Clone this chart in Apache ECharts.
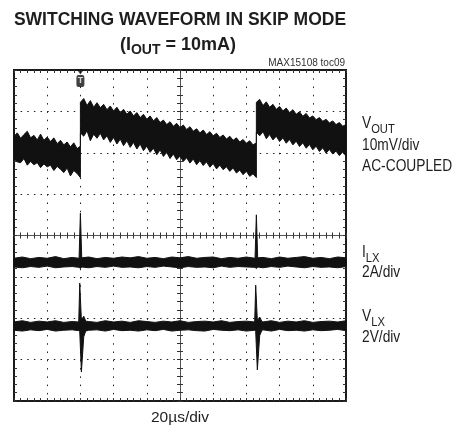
<!DOCTYPE html>
<html><head><meta charset="utf-8">
<script src="https://cdn.jsdelivr.net/npm/echarts@6/dist/echarts.min.js"></script>
<style>html,body{margin:0;padding:0;background:#fff}#c{width:468px;height:433px}</style>
</head><body><div id="c"></div>
<script>
// time in divisions (20us/div), 0 = screen centre; trigger at -3 div
const trigT = [-3];
// VOUT trace envelope (divisions, 10mV/div, AC-coupled)
const vT = [-5.0,-4.9,-4.8,-4.7,-4.6,-4.5,-4.4,-4.3,-4.2,-4.1,-4.0,-3.9,-3.8,-3.7,-3.6,-3.5,-3.4,-3.3,-3.2,-3.1,-3.0,
 -3.0,-2.9,-2.8,-2.7,-2.6,-2.5,-2.4,-2.3,-2.2,-2.1,-2.0,-1.9,-1.8,-1.7,-1.6,-1.5,-1.4,-1.3,-1.2,-1.1,-1.0,-0.9,-0.8,-0.7,-0.6,-0.5,-0.4,-0.3,-0.2,-0.1,0.0,0.1,0.2,0.3,0.4,0.5,0.6,0.7,0.8,0.9,1.0,1.1,1.2,1.3,1.4,1.5,1.6,1.7,1.8,1.9,2.0,2.1,2.2,2.3,
 2.3,2.4,2.5,2.6,2.7,2.8,2.9,3.0,3.1,3.2,3.3,3.4,3.5,3.6,3.7,3.8,3.9,4.0,4.1,4.2,4.3,4.4,4.5,4.6,4.7,4.8,4.9,5.0];
const vHi = [2.40,2.48,2.35,2.44,2.52,2.36,2.42,2.31,2.45,2.30,2.38,2.27,2.36,2.22,2.30,2.19,2.26,2.14,2.24,2.10,2.16,
 3.22,3.31,3.14,3.26,3.10,3.21,3.09,3.17,3.04,3.13,3.01,3.10,2.97,3.05,2.93,3.01,2.89,2.97,2.85,2.93,2.81,2.89,2.77,2.85,2.73,2.79,2.68,2.75,2.64,2.71,
 2.61,2.67,2.56,2.63,2.52,2.58,2.48,2.55,2.44,2.51,2.41,2.47,2.37,2.43,2.33,2.40,2.30,2.36,2.26,2.32,2.23,2.29,2.19,2.24,
 3.22,3.29,3.14,3.23,3.10,3.17,3.05,3.12,3.01,3.08,2.97,3.04,2.93,2.99,2.88,2.95,2.84,2.89,2.80,2.85,2.76,2.81,2.72,2.77,2.68,2.73,2.64,2.68];
const vLo = [1.85,1.78,1.76,1.86,1.70,1.79,1.71,1.76,1.64,1.73,1.66,1.70,1.57,1.67,1.60,1.52,1.63,1.44,1.57,1.50,1.40,
 2.48,2.40,2.53,2.29,2.45,2.35,2.47,2.31,2.41,2.25,2.37,2.21,2.33,2.17,2.29,2.13,2.25,2.09,2.21,2.05,2.16,2.01,2.11,1.95,2.07,1.91,2.01,1.86,1.97,1.83,
 1.92,1.79,1.88,1.75,1.85,1.71,1.81,1.69,1.78,1.65,1.74,1.61,1.70,1.59,1.66,1.55,1.63,1.51,1.58,1.47,1.55,1.43,1.49,1.40,
 2.50,2.41,2.51,2.34,2.44,2.31,2.40,2.27,2.36,2.23,2.32,2.19,2.28,2.15,2.24,2.11,2.20,2.07,2.16,2.03,2.12,1.99,2.08,1.97,2.04,1.93,2.02,1.92];
// ILX trace envelope (2A/div)
const iT = [-5,-4.75,-4.5,-4.25,-4,-3.75,-3.5,-3.25,-3.04,-3.0,-2.96,-2.75,-2.5,-2.25,-2,-1.75,-1.5,-1.25,-1,-0.75,-0.5,-0.25,0,0.25,0.5,0.75,1,1.25,1.5,1.75,2,2.26,2.3,2.34,2.5,2.75,3,3.25,3.5,3.75,4,4.25,4.5,4.75,5];
const iHi = [-0.55,-0.52,-0.56,-0.53,-0.55,-0.51,-0.56,-0.53,-0.55,0.54,-0.54,-0.52,-0.56,-0.53,-0.55,-0.52,-0.54,-0.51,-0.55,-0.53,-0.56,-0.52,-0.54,-0.51,-0.55,-0.53,-0.52,-0.56,-0.53,-0.55,-0.52,-0.55,0.50,-0.54,-0.53,-0.56,-0.52,-0.55,-0.53,-0.51,-0.55,-0.53,-0.56,-0.52,-0.54];
const iLo = [-0.76,-0.78,-0.75,-0.77,-0.74,-0.78,-0.76,-0.75,-0.77,-0.80,-0.76,-0.78,-0.75,-0.77,-0.74,-0.77,-0.76,-0.78,-0.75,-0.77,-0.74,-0.76,-0.78,-0.75,-0.77,-0.76,-0.78,-0.74,-0.77,-0.75,-0.76,-0.77,-0.80,-0.76,-0.78,-0.75,-0.77,-0.74,-0.76,-0.78,-0.75,-0.77,-0.76,-0.78,-0.75];
// VLX trace envelope (2V/div)
const xT = [-5,-4.75,-4.5,-4.25,-4,-3.75,-3.5,-3.25,-3.05,-3.02,-2.97,-2.9,-2.84,-2.75,-2.5,-2.25,-2,-1.75,-1.5,-1.25,-1,-0.75,-0.5,-0.25,0,0.25,0.5,0.75,1,1.25,1.5,1.75,2,2.25,2.28,2.33,2.4,2.46,2.5,2.75,3,3.25,3.5,3.75,4,4.25,4.5,4.75,5];
const xHi = [-2.09,-2.06,-2.10,-2.07,-2.09,-2.06,-2.10,-2.08,-2.09,-1.15,-2.05,-1.95,-2.07,-2.08,-2.10,-2.06,-2.09,-2.07,-2.10,-2.06,-2.08,-2.10,-2.07,-2.09,-2.06,-2.10,-2.08,-2.07,-2.09,-2.06,-2.10,-2.08,-2.07,-2.09,-1.20,-2.06,-1.97,-2.07,-2.09,-2.06,-2.10,-2.07,-2.09,-2.06,-2.10,-2.08,-2.07,-2.09,-2.06];
const xLo = [-2.29,-2.31,-2.28,-2.30,-2.27,-2.31,-2.29,-2.28,-2.30,-2.32,-3.30,-2.45,-2.31,-2.29,-2.28,-2.31,-2.27,-2.30,-2.29,-2.31,-2.28,-2.30,-2.27,-2.31,-2.29,-2.28,-2.30,-2.31,-2.27,-2.29,-2.30,-2.28,-2.31,-2.29,-2.32,-3.25,-2.42,-2.30,-2.28,-2.31,-2.27,-2.30,-2.29,-2.31,-2.28,-2.30,-2.29,-2.27,-2.30];

const FONT = '"Liberation Sans", Arial, Helvetica, sans-serif';
const INK = '#1e1e1e';
const SX = 0.86; // condensed look of the side labels

function band(t, hi, lo, color) {
  return {
    type: 'custom', coordinateSystem: 'cartesian2d', xAxisIndex: 0, yAxisIndex: 0,
    silent: true, animation: false,
    data: t.map((x, i) => [x, hi[i], lo[i]]),
    encode: { x: 0, y: [1, 2] },
    renderItem: function (params, api) {
      if (params.dataIndex !== 0) return null;
      const pts = [];
      for (let i = 0; i < t.length; i++) pts.push(api.coord([t[i], hi[i]]));
      for (let i = t.length - 1; i >= 0; i--) pts.push(api.coord([t[i], lo[i]]));
      return { type: 'polygon', shape: { points: pts }, style: { fill: color, stroke: color, lineWidth: 1 } };
    }
  };
}

function sideText(y, text) {
  return { type: 'text', x: 362, y: y, scaleX: SX, style: { text: text, font: '16px ' + FONT, fill: INK, textAlign: 'left', textVerticalAlign: 'middle' } };
}
function sideSub(y, main, sub) {
  return { type: 'text', x: 362, y: y, scaleX: SX, style: { text: '{a|' + main + '}{b|' + sub + '}', textAlign: 'left', textVerticalAlign: 'middle',
    rich: { a: { font: '16px ' + FONT, fill: INK, lineHeight: 17, verticalAlign: 'top' },
            b: { font: '13px ' + FONT, fill: INK, lineHeight: 13, padding: [7, 0, 0, 0], verticalAlign: 'top' } } } };
}

const base = { type: 'value', min: -5, max: 5, interval: 1, axisLabel: { show: false }, splitLine: { show: false } };
const ybase = { type: 'value', min: -4, max: 4, interval: 1, axisLabel: { show: false }, splitLine: { show: false } };
const tickStyle = { color: '#333', width: 1 };
const centreLine = { color: '#555', width: 1 };

const chart = echarts.init(document.getElementById('c'));
chart.setOption({
  animation: false,
  backgroundColor: '#fff',
  grid: { left: 14, top: 70, width: 332, height: 331, show: true, borderColor: '#1a1a1a', borderWidth: 2, backgroundColor: 'transparent' },
  xAxis: [
    Object.assign({}, base, { position: 'bottom', axisLine: { show: true, onZero: true, onZeroAxisIndex: 0, lineStyle: centreLine },
      axisTick: { show: true, length: 3, lineStyle: tickStyle }, minorTick: { show: true, splitNumber: 5, length: 3, lineStyle: tickStyle } }),
    Object.assign({}, base, { position: 'top', axisLine: { show: true, onZero: true, onZeroAxisIndex: 0, lineStyle: centreLine },
      axisTick: { show: true, length: 3, lineStyle: tickStyle }, minorTick: { show: true, splitNumber: 5, length: 3, lineStyle: tickStyle } }),
    Object.assign({}, base, { position: 'bottom', axisLine: { show: false, onZero: false },
      axisTick: { show: true, inside: true, length: 3, lineStyle: tickStyle }, minorTick: { show: true, splitNumber: 5, length: 3, lineStyle: tickStyle },
      splitLine: { show: true, lineStyle: { color: '#222', width: 1, type: [1.5, 6.78] } } }),
    Object.assign({}, base, { position: 'top', axisLine: { show: false, onZero: false },
      axisTick: { show: true, inside: true, length: 3, lineStyle: tickStyle }, minorTick: { show: true, splitNumber: 5, length: 3, lineStyle: tickStyle } })
  ],
  yAxis: [
    Object.assign({}, ybase, { position: 'left', axisLine: { show: true, onZero: true, onZeroAxisIndex: 0, lineStyle: centreLine },
      axisTick: { show: true, length: 3, lineStyle: tickStyle }, minorTick: { show: true, splitNumber: 5, length: 3, lineStyle: tickStyle } }),
    Object.assign({}, ybase, { position: 'right', axisLine: { show: true, onZero: true, onZeroAxisIndex: 0, lineStyle: centreLine },
      axisTick: { show: true, length: 3, lineStyle: tickStyle }, minorTick: { show: true, splitNumber: 5, length: 3, lineStyle: tickStyle } }),
    Object.assign({}, ybase, { position: 'left', axisLine: { show: false, onZero: false },
      axisTick: { show: true, inside: true, length: 3, lineStyle: tickStyle }, minorTick: { show: true, splitNumber: 5, length: 3, lineStyle: tickStyle },
      splitLine: { show: true, lineStyle: { color: '#222', width: 1, type: [1.5, 5.14] } } }),
    Object.assign({}, ybase, { position: 'right', axisLine: { show: false, onZero: false },
      axisTick: { show: true, inside: true, length: 3, lineStyle: tickStyle }, minorTick: { show: true, splitNumber: 5, length: 3, lineStyle: tickStyle } })
  ],
  series: [
    band(vT, vHi, vLo, '#111'),
    band(iT, iHi, iLo, '#111'),
    band(xT, xHi, xLo, '#111'),
    { type: 'scatter', xAxisIndex: 0, yAxisIndex: 0, silent: true, clip: false,
      data: trigT.map(t => [t, 4]), symbol: 'triangle', symbolRotate: 180, symbolSize: [7, 5], symbolOffset: [0, 2],
      itemStyle: { color: '#111' } },
    { type: 'scatter', xAxisIndex: 0, yAxisIndex: 0, silent: true, clip: false,
      data: trigT.map(t => [t, 4]), symbol: 'roundRect', symbolSize: [8, 12], symbolOffset: [0, 11],
      itemStyle: { color: '#111' },
      label: { show: true, position: 'inside', formatter: 'T', color: '#fff', fontSize: 9, fontWeight: 'bold', fontFamily: FONT } }
  ],
  graphic: [
    { type: 'text', x: 180, y: 20, style: { text: 'SWITCHING WAVEFORM IN SKIP MODE', font: 'bold 17.5px ' + FONT, fill: INK, textAlign: 'center', textVerticalAlign: 'middle' } },
    { type: 'text', x: 178, y: 46, style: { text: '{a|(I}{b|OUT}{a| = 10mA)}', textAlign: 'center', textVerticalAlign: 'middle',
      rich: { a: { font: 'bold 18px ' + FONT, fill: INK, lineHeight: 19, verticalAlign: 'top' },
              b: { font: 'bold 14px ' + FONT, fill: INK, lineHeight: 14, padding: [7, 0, 0, 0], verticalAlign: 'top' } } } },
    { type: 'text', x: 345, y: 63, style: { text: 'MAX15108 toc09', font: '10px ' + FONT, fill: '#333', textAlign: 'right', textVerticalAlign: 'middle' } },
    sideSub(124, 'V', 'OUT'),
    sideText(146, '10mV/div'),
    sideText(167, 'AC-COUPLED'),
    sideSub(253, 'I', 'LX'),
    sideText(273, '2A/div'),
    sideSub(317, 'V', 'LX'),
    sideText(338, '2V/div'),
    { type: 'text', x: 180, y: 418, style: { text: '20µs/div', font: '15.5px ' + FONT, fill: INK, textAlign: 'center', textVerticalAlign: 'middle' } }
  ]
});
</script>
</body></html>
